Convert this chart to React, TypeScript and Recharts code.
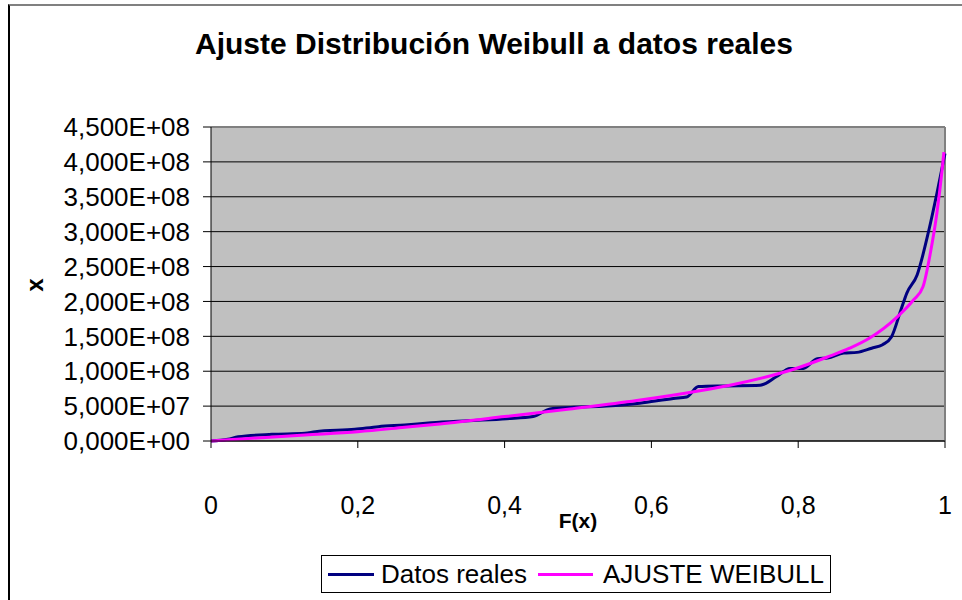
import React from 'react';
import { LineChart, Line, XAxis, YAxis, CartesianGrid, ReferenceLine } from 'recharts';

const realF = [0, 0.023, 0.037, 0.083, 0.128, 0.142, 0.196, 0.228, 0.264, 0.30, 0.35, 0.403, 0.439, 0.462, 0.49, 0.539, 0.584, 0.63, 0.648, 0.664, 0.70, 0.748, 0.77, 0.789, 0.807, 0.826, 0.84, 0.862, 0.88, 0.90, 0.915, 0.927, 0.94, 0.948, 0.962, 0.978, 0.989, 1.0];
const realX = [0, 0.25, 0.6, 0.95, 1.1, 1.33, 1.67, 2.05, 2.3, 2.6, 2.9, 3.2, 3.5, 4.6, 4.8, 5.0, 5.4, 6.1, 6.3, 7.8, 7.9, 8.0, 9.2, 10.4, 10.4, 11.8, 11.9, 12.6, 12.7, 13.3, 13.8, 14.9, 18.8, 21.2, 23.8, 30.2, 35.5, 41.2].map(v => v * 1e7);

const weibF = [0, 0.128, 0.2, 0.264, 0.312, 0.40, 0.489, 0.58, 0.666, 0.707, 0.80, 0.839, 0.87, 0.898, 0.935, 0.957, 0.97, 0.98, 0.989, 0.996, 0.9985];
const weibX = [0, 0.86, 1.33, 1.96, 2.45, 3.5, 4.6, 5.8, 7.2, 8.0, 10.5, 12.0, 13.3, 14.8, 17.8, 20.2, 22.1, 26.9, 32.7, 38.8, 41.4].map(v => v * 1e7);

const xTicks = [0, 0.2, 0.4, 0.6, 0.8, 1];
const yTicks = [0, 5e7, 1e8, 1.5e8, 2e8, 2.5e8, 3e8, 3.5e8, 4e8, 4.5e8];

const title = 'Ajuste Distribución Weibull a datos reales';
const seriesNames = ['Datos reales', 'AJUSTE WEIBULL'];
const seriesColors = ['#000080', '#FF00FF'];

const realData = realF.map((f, i) => ({ f, x: realX[i] }));
const weibData = weibF.map((f, i) => ({ f, x: weibX[i] }));

const FONT = '"Liberation Sans", Arial, sans-serif';

const fmtY = (v: number) => {
  if (v === 0) return '0,000E+00';
  const e = Math.floor(Math.log10(v) + 1e-9);
  const m = v / Math.pow(10, e);
  return m.toFixed(3).replace('.', ',') + 'E+' + String(e).padStart(2, '0');
};
const fmtX = (v: number) => String(v).replace('.', ',');

export default function App() {
  return (
    <div style={{ position: 'absolute', left: 0, top: 0, width: 962, height: 600, background: '#fff', fontFamily: FONT, overflow: 'hidden' }}>
      <div style={{ position: 'absolute', left: 8, top: 4, width: 980, height: 620, borderTop: '2px solid #808080', borderLeft: '2px solid #000' }} />
      <div style={{ position: 'absolute', left: 0, width: 988, top: 26, textAlign: 'center', fontSize: 30, fontWeight: 'bold', lineHeight: '36px' }}>{title}</div>
      <LineChart width={962} height={600} data={realData} margin={{ top: 127, right: 17, bottom: 99, left: 0 }} style={{ position: 'absolute', left: 0, top: 0 }}>
        <CartesianGrid vertical={false} stroke="#000" strokeOpacity={1} fill="#C0C0C0" fillOpacity={1} />
        <XAxis dataKey="f" type="number" domain={[0, 1]} ticks={xTicks} tickFormatter={fmtX} height={60} tickSize={7} tickMargin={48}
          stroke="#000" tick={{ fill: '#000', fontSize: 25, fontFamily: FONT }} allowDuplicatedCategory={false} interval={0} />
        <YAxis dataKey="x" type="number" domain={[0, 4.5e8]} ticks={yTicks} tickFormatter={fmtY} width={211} tickSize={8} tickMargin={13}
          stroke="#000" tick={{ fill: '#000', fontSize: 26, fontFamily: FONT }} interval={0} />
        <ReferenceLine y={4.5e8} stroke="#808080" strokeWidth={2} />
        <ReferenceLine x={1} stroke="#808080" strokeWidth={2} />
        <Line data={realData} dataKey="x" type="monotone" stroke={seriesColors[0]} strokeWidth={3} dot={false} isAnimationActive={false} name={seriesNames[0]} />
        <Line data={weibData} dataKey="x" type="monotone" stroke={seriesColors[1]} strokeWidth={3} dot={false} isAnimationActive={false} name={seriesNames[1]} />
      </LineChart>
      <div style={{ position: 'absolute', left: 28, top: 271, fontSize: 24, fontWeight: 'bold', transform: 'rotate(-90deg)', lineHeight: '28px' }}>x</div>
      <div style={{ position: 'absolute', left: 0, width: 1156, top: 508, textAlign: 'center', fontSize: 21, fontWeight: 'bold', lineHeight: '26px' }}>F(x)</div>
      <div style={{ position: 'absolute', left: 321, top: 555, width: 508, height: 36, border: '1px solid #000', display: 'flex', alignItems: 'center', fontSize: 26, whiteSpace: 'nowrap' }}>
        <span style={{ display: 'inline-block', width: 46, height: 3, background: seriesColors[0], marginLeft: 6, marginRight: 7 }} />
        <span>{seriesNames[0]}</span>
        <span style={{ display: 'inline-block', width: 55, height: 3, background: seriesColors[1], marginLeft: 11, marginRight: 10 }} />
        <span>{seriesNames[1]}</span>
      </div>
    </div>
  );
}
